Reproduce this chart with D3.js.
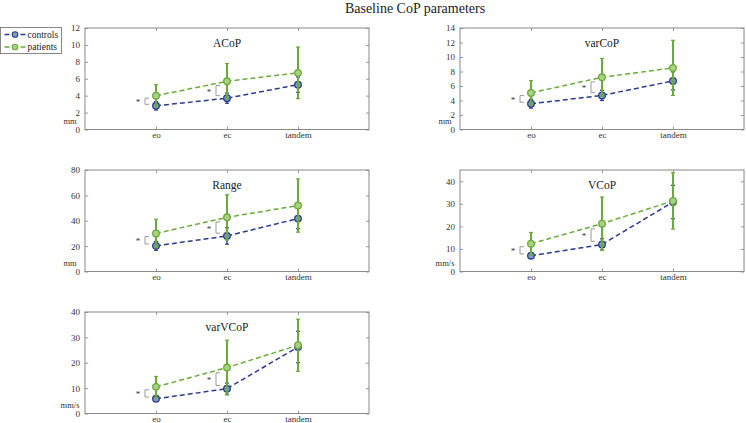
<!DOCTYPE html>
<html><head><meta charset="utf-8">
<script src="https://cdn.jsdelivr.net/npm/d3@7"></script>
<style>body{margin:0;background:#fff}svg{display:block}</style>
</head><body>
<svg id="chart" width="746" height="423"></svg>
<script>
const title = "Baseline CoP parameters";
const categories = ["eo", "ec", "tandem"];
const seriesNames = ["controls", "patients"];
const panelNames = ["ACoP", "varCoP", "Range", "VCoP", "varVCoP"];
const panelUnits = ["mm", "mm", "mm", "mm/s", "mm/s"];
const yMax = [12, 14, 80, 45, 40];
const yStep = [2, 2, 20, 10, 10];

const controlsMean = [[2.8, 3.7, 5.3], [3.55, 4.7, 6.7], [20.2, 28, 41.7], [7, 12, 30.8], [5.8, 9.8, 26.2]];
const controlsSD   = [[0.5, 0.6, 0.9], [0.6, 0.7, 1.25], [3.5, 6.5, 8], [1.2, 2.5, 7.4], [1, 2.2, 6.2]];
const patientsMean = [[4.0, 5.7, 6.7], [5.05, 7.2, 8.5], [30, 42.7, 52], [12.3, 21.2, 31.3], [10.5, 18.1, 26.9]];
const patientsSD   = [[1.3, 2.1, 3.05], [1.7, 2.6, 3.8], [11.2, 17.8, 21], [5, 11.8, 12.5], [4.1, 10.8, 10.3]];
const significant = [["eo", "ec"], ["eo", "ec"], ["eo", "ec"], ["eo", "ec"], ["eo", "ec"]];

const colors = {controls: {line: "#2a3b8f", fill: "#7f9fb5"}, patients: {line: "#6aaa3a", fill: "#a9d184"}};
const serif = "'Liberation Serif','DejaVu Serif',serif";

const svg = d3.select("#chart");
svg.append("text").attr("x", 415).attr("y", 13).attr("text-anchor", "middle")
  .style("font-family", serif).style("font-size", "14px").attr("fill", "#222").text(title);

const layout = [[85, 28], [460, 28], [85, 170], [460, 170], [85, 312]];
const W = 284, H = 101.5;

panelNames.forEach((name, pi) => {
  const [px, py] = layout[pi];
  const g = svg.append("g").attr("transform", `translate(${px},${py})`);
  const x = d3.scaleLinear().domain([0, 4]).range([0, W]);
  const xc = c => x(categories.indexOf(c) + 1);
  const y = d3.scaleLinear().domain([0, yMax[pi]]).range([H, 0]);
  const yt = d3.range(0, yMax[pi] + 0.001, yStep[pi]);

  const axL = d3.axisLeft(y).tickValues(yt).tickSizeInner(-3).tickSizeOuter(0).tickPadding(5);
  const axR = d3.axisRight(y).tickValues(yt).tickSizeInner(-3).tickSizeOuter(0).tickFormat("");
  const axB = d3.axisBottom(x).tickValues([1, 2, 3]).tickSizeInner(-3).tickSizeOuter(0).tickPadding(2.5)
    .tickFormat(d => categories[d - 1]);
  const axT = d3.axisTop(x).tickValues([1, 2, 3]).tickSizeInner(-3).tickSizeOuter(0).tickFormat("");
  g.append("g").call(axL);
  g.append("g").attr("transform", `translate(${W},0)`).call(axR);
  g.append("g").attr("transform", `translate(0,${H})`).call(axB);
  g.append("g").call(axT);
  g.selectAll(".domain").remove();
  g.selectAll(".tick line").attr("stroke", "#999");
  g.selectAll(".tick text").style("font-family", serif).style("font-size", "9px").attr("fill", "#333");
  g.append("rect").attr("width", W).attr("height", H).attr("fill", "none").attr("stroke", "#888").attr("stroke-width", 1);

  g.append("text").attr("x", -15).attr("y", H - 5.5).attr("text-anchor", "middle")
    .style("font-family", serif).style("font-size", "8.5px").attr("fill", "#333").text(panelUnits[pi]);
  g.append("text").attr("x", W / 2).attr("y", 19).attr("text-anchor", "middle")
    .style("font-family", serif).style("font-size", "11.5px").attr("fill", "#222").text(name);

  significant[pi].forEach(c => {
    const i = categories.indexOf(c);
    const cm = controlsMean[pi][i], pm = patientsMean[pi][i], gap = pm - cm;
    const lo = y(cm + 0.15 * gap), hi = y(cm + 0.75 * gap), cx = xc(c);
    g.append("path").attr("d", `M${cx - 7},${lo}H${cx - 11}V${hi}H${cx - 7}`)
      .attr("fill", "none").attr("stroke", "#999").attr("stroke-width", 1);
    g.append("text").attr("x", cx - 18).attr("y", (lo + hi) / 2 + 4).attr("text-anchor", "middle")
      .style("font-family", serif).style("font-size", "9px").attr("fill", "#333").text("*");
  });

  const series = [
    {name: "controls", mean: controlsMean[pi], sd: controlsSD[pi], ew: 1.4},
    {name: "patients", mean: patientsMean[pi], sd: patientsSD[pi], ew: 2}
  ];
  series.forEach(s => {
    const col = colors[s.name];
    const pts = categories.map((c, i) => ({c, m: s.mean[i], sd: s.sd[i]}));
    g.append("path").datum(pts)
      .attr("d", d3.line().x(d => xc(d.c)).y(d => y(d.m)))
      .attr("fill", "none").attr("stroke", col.line).attr("stroke-width", 1.5).attr("stroke-dasharray", "5,3");
    pts.forEach(d => {
      const cx = xc(d.c);
      g.append("line").attr("x1", cx).attr("x2", cx).attr("y1", y(d.m - d.sd)).attr("y2", y(d.m + d.sd))
        .attr("stroke", col.line).attr("stroke-width", s.ew);
      [d.m - d.sd, d.m + d.sd].forEach(v => {
        g.append("line").attr("x1", cx - 2).attr("x2", cx + 2).attr("y1", y(v)).attr("y2", y(v))
          .attr("stroke", col.line).attr("stroke-width", 1.2);
      });
      g.append("circle").attr("cx", cx).attr("cy", y(d.m)).attr("r", 3.3)
        .attr("fill", col.fill).attr("stroke", col.line).attr("stroke-width", 1.3);
    });
  });
});

const lg = svg.append("g").attr("transform", "translate(0.5,27.5)");
lg.append("rect").attr("width", 61).attr("height", 26).attr("fill", "#fff").attr("stroke", "#888");
seriesNames.forEach((n, i) => {
  const yy = 7 + i * 12.5;
  lg.append("line").attr("x1", 4).attr("x2", 25).attr("y1", yy).attr("y2", yy)
    .attr("stroke", colors[n].line).attr("stroke-width", 1.5).attr("stroke-dasharray", "5,3");
  lg.append("circle").attr("cx", 14.5).attr("cy", yy).attr("r", 2.8)
    .attr("fill", colors[n].fill).attr("stroke", colors[n].line).attr("stroke-width", 1.1);
  lg.append("text").attr("x", 27).attr("y", yy + 3).style("font-family", serif).style("font-size", "9.5px")
    .attr("fill", "#222").text(n);
});
</script>
</body></html>
